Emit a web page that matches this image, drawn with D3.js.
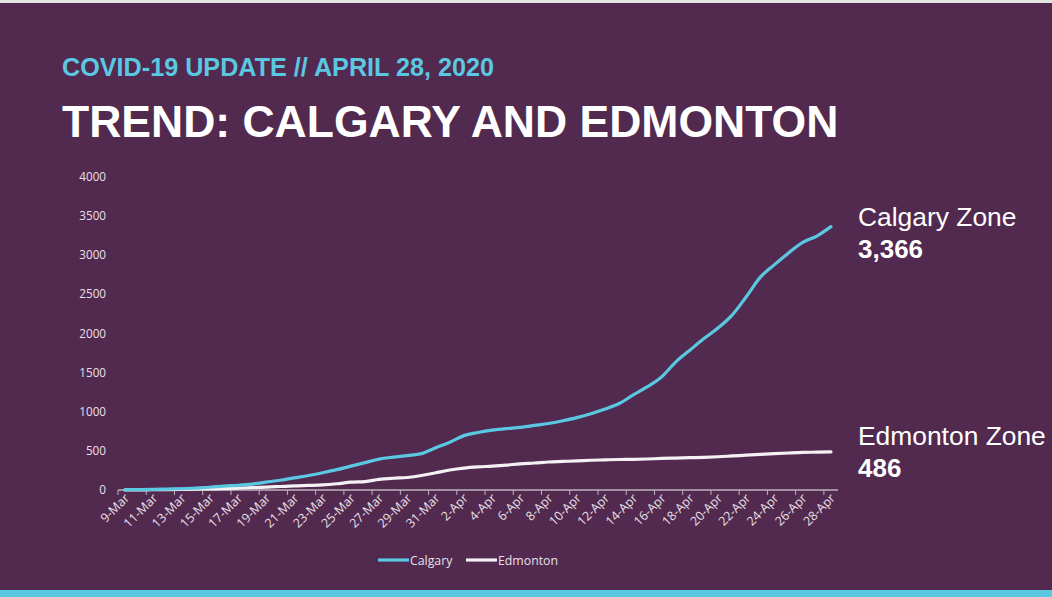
<!DOCTYPE html>
<html>
<head>
<meta charset="utf-8">
<script src="https://cdn.jsdelivr.net/npm/d3@7"></script>
<style>
  html, body { margin: 0; padding: 0; background: #52294f; }
  svg { display: block; }
</style>
</head>
<body>
<script>
// days from 9-Mar to 28-Apr 2020
var dates = [];
for (var d = 9; d <= 31; d++) dates.push(d + "-Mar");
for (var d = 1; d <= 28; d++) dates.push(d + "-Apr");

var calgary = [3, 5, 8, 12, 16, 25, 35, 50, 60, 75,
  100, 125, 155, 185, 220, 260, 305, 350, 395, 420,
  440, 465, 540, 610, 695, 735, 765, 785, 800, 825,
  850, 885, 925, 975, 1035, 1105, 1215, 1320, 1445, 1635,
  1785, 1935, 2070, 2235, 2470, 2720, 2880, 3030, 3165, 3245,
  3366];
var edmonton = [1, 2, 3, 5, 7, 10, 14, 18, 24, 30,
  38, 45, 52, 58, 65, 80, 100, 108, 135, 150,
  160, 185, 220, 255, 280, 295, 305, 318, 335, 345,
  358, 365, 372, 380, 385, 390, 392, 396, 403, 408,
  413, 418, 425, 435, 445, 455, 465, 473, 480, 483,
  486];
var yTicks = [0, 500, 1000, 1500, 2000, 2500, 3000, 3500, 4000];
var seriesNames = ["Calgary", "Edmonton"];
var seriesColors = ["#5bc8e2", "#f4f1f4"];
var zoneLabels = [["Calgary Zone", "3,366"], ["Edmonton Zone", "486"]];

var width = 1052, height = 597;
var svg = d3.select("body").append("svg")
  .attr("width", width)
  .attr("height", height);

svg.append("rect").attr("width", width).attr("height", height).attr("fill", "#52294f");
svg.append("rect").attr("width", width).attr("height", 3).attr("fill", "#e4e4e4");
svg.append("rect").attr("y", 590).attr("width", width).attr("height", 7).attr("fill", "#5bc8e2");

svg.append("text")
  .attr("x", 62).attr("y", 76)
  .style("font-family", "Liberation Sans, Arial, sans-serif")
  .style("font-weight", "bold").style("font-size", "25.2px")
  .attr("fill", "#5bc8e2")
  .text("COVID-19 UPDATE // APRIL 28, 2020");

svg.append("text")
  .attr("x", 62).attr("y", 137)
  .style("font-family", "Liberation Sans, Arial, sans-serif")
  .style("font-weight", "bold").style("font-size", "44.5px")
  .attr("fill", "#ffffff")
  .text("TREND: CALGARY AND EDMONTON");

var x = d3.scaleBand().domain(dates).range([118, 838]).padding(0);
var y = d3.scaleLinear().domain([0, 4000]).range([490, 177]);

var tickFont = "Open Sans, Noto Sans, sans-serif";

// y labels (no axis line)
svg.append("g").selectAll("text")
  .data(yTicks).enter().append("text")
  .attr("x", 106).attr("y", function(v) { return y(v) + 4; })
  .attr("text-anchor", "end")
  .style("font-family", tickFont).style("font-size", "11.7px")
  .attr("fill", "#e8e0e8")
  .text(function(v) { return v; });

// x axis
var gx = svg.append("g");
gx.append("line")
  .attr("x1", x.range()[0]).attr("x2", x.range()[1])
  .attr("y1", 490).attr("y2", 490)
  .attr("stroke", "#bdb3bd").attr("stroke-width", 1.3);
var every2 = dates.filter(function(dd, i) { return i % 2 === 0; });
gx.selectAll(".tk").data(every2).enter().append("line")
  .attr("x1", function(dd) { return x(dd); })
  .attr("x2", function(dd) { return x(dd); })
  .attr("y1", 490).attr("y2", 495)
  .attr("stroke", "#bdb3bd").attr("stroke-width", 1);
gx.selectAll(".lb").data(every2).enter().append("text")
  .attr("transform", function(dd) {
    return "translate(" + (x(dd) + x.bandwidth() / 2 + 5) + ",499) rotate(-45)";
  })
  .attr("text-anchor", "end")
  .style("font-family", tickFont).style("font-size", "12.5px")
  .attr("fill", "#e8e0e8")
  .text(function(dd) { return dd; });

var line = d3.line()
  .x(function(v, i) { return x(dates[i]) + x.bandwidth() / 2; })
  .y(function(v) { return y(v); })
  .curve(d3.curveMonotoneX);

[edmonton, calgary].forEach(function(s) {
  var idx = s === calgary ? 0 : 1;
  svg.append("path")
    .attr("d", line(s))
    .attr("fill", "none")
    .attr("stroke", seriesColors[idx])
    .attr("stroke-width", 3.2)
    .attr("stroke-linecap", "round")
    .attr("stroke-linejoin", "round");
});

// legend
var legX = [378, 466];
seriesNames.forEach(function(n, i) {
  svg.append("line")
    .attr("x1", legX[i]).attr("x2", legX[i] + 31)
    .attr("y1", 560).attr("y2", 560)
    .attr("stroke", seriesColors[i]).attr("stroke-width", 3.2);
  svg.append("text")
    .attr("x", legX[i] + 32).attr("y", 564.5)
    .style("font-family", tickFont).style("font-size", "12.3px")
    .attr("fill", "#e8e0e8")
    .text(n);
});

// zone labels on the right
var zoneY = [226, 445];
zoneLabels.forEach(function(z, i) {
  svg.append("text")
    .attr("x", 858).attr("y", zoneY[i])
    .style("font-family", "Liberation Sans, Arial, sans-serif")
    .style("font-size", "26.4px")
    .attr("fill", "#ffffff")
    .text(z[0]);
  svg.append("text")
    .attr("x", 858).attr("y", zoneY[i] + 32)
    .style("font-family", "Liberation Sans, Arial, sans-serif")
    .style("font-weight", "bold").style("font-size", "26px")
    .attr("fill", "#ffffff")
    .text(z[1]);
});
</script>
</body>
</html>
